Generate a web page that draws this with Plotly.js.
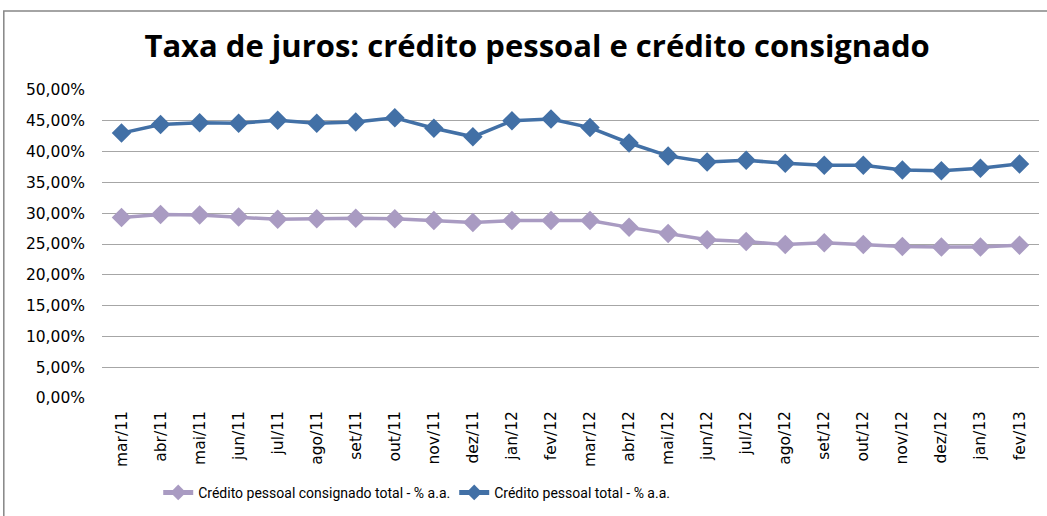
<!DOCTYPE html>
<html>
<head>
<meta charset="utf-8">
<script src="https://cdn.plot.ly/plotly-3.0.1.min.js"></script>
<style>html,body{margin:0;padding:0;background:#fff;}#chart{width:1047px;height:516px;}</style>
</head>
<body>
<div id="chart"></div>
<script>
const months = ["mar/11","abr/11","mai/11","jun/11","jul/11","ago/11","set/11","out/11","nov/11","dez/11","jan/12","fev/12","mar/12","abr/12","mai/12","jun/12","jul/12","ago/12","set/12","out/12","nov/12","dez/12","jan/13","fev/13"];
const consignado = [29.3,29.8,29.7,29.4,29.0,29.1,29.2,29.1,28.8,28.5,28.8,28.8,28.8,27.7,26.7,25.7,25.4,24.9,25.2,24.9,24.6,24.5,24.5,24.8];
const pessoalTotal = [43.0,44.4,44.7,44.6,45.1,44.6,44.8,45.5,43.8,42.4,45.0,45.3,43.9,41.4,39.3,38.3,38.6,38.1,37.8,37.8,37.0,36.9,37.3,38.0];
const yTicks = [0,5,10,15,20,25,30,35,40,45,50];
const yTickLabels = ["0,00%","5,00%","10,00%","15,00%","20,00%","25,00%","30,00%","35,00%","40,00%","45,00%","50,00%"];

const font = "Open Sans, DejaVu Sans, sans-serif";
const tickFont = "DejaVu Sans, sans-serif";
const legendFont = "Roboto, Open Sans, sans-serif";
const traces = [
  {x: months, y: consignado, name: "Crédito pessoal consignado total - % a.a.", type: "scatter", mode: "lines+markers",
   line: {color: "#A99BC2", width: 3.5}, marker: {symbol: "diamond", size: 15, color: "#A99BC2"}},
  {x: months, y: pessoalTotal, name: "Crédito pessoal total - % a.a.", type: "scatter", mode: "lines+markers",
   line: {color: "#4270A6", width: 3.5}, marker: {symbol: "diamond", size: 15, color: "#4270A6"}}
];
const layout = {
  width: 1047, height: 516,
  margin: {l: 102, r: 8, t: 90, b: 118, autoexpand: false},
  paper_bgcolor: "#fff", plot_bgcolor: "#fff",
  font: {family: font, color: "#000", size: 16},
  title: {text: "<b>Taxa de juros: crédito pessoal e crédito consignado</b>", font: {family: font, size: 31, color: "#000"},
          x: 0.513, xanchor: "center", y: 0.91, yanchor: "middle"},
  xaxis: {type: "category", tickangle: -90, showgrid: false, showline: false, zeroline: false,
          tickfont: {family: tickFont, size: 15.5}, ticks: "", range: [-0.5, 23.5], ticklabelstandoff: 9},
  yaxis: {range: [0, 50], tickvals: yTicks, ticktext: yTickLabels, showgrid: true, gridcolor: "#A6A6A6", gridwidth: 1,
          zeroline: false, showline: false, ticks: "", tickfont: {family: tickFont, size: 15.5}, ticklabelstandoff: 16},
  showlegend: true,
  legend: {orientation: "h", x: 0.06, xanchor: "left", yref: "container", y: 0.045, yanchor: "middle",
           font: {family: legendFont, size: 14}, traceorder: "normal", itemwidth: 30, itemsizing: "constant",
           entrywidth: 251, entrywidthmode: "pixels"},
  shapes: [
    {type: "rect", xref: "paper", yref: "paper", x0: -0.1048, x1: 1.02, y0: -0.4, y1: 1.2565,
     line: {color: "#868686", width: 1.5}, fillcolor: "rgba(0,0,0,0)", layer: "below"}
  ]
};
Plotly.newPlot("chart", traces, layout, {displayModeBar: false, staticPlot: true});
</script>
</body>
</html>
